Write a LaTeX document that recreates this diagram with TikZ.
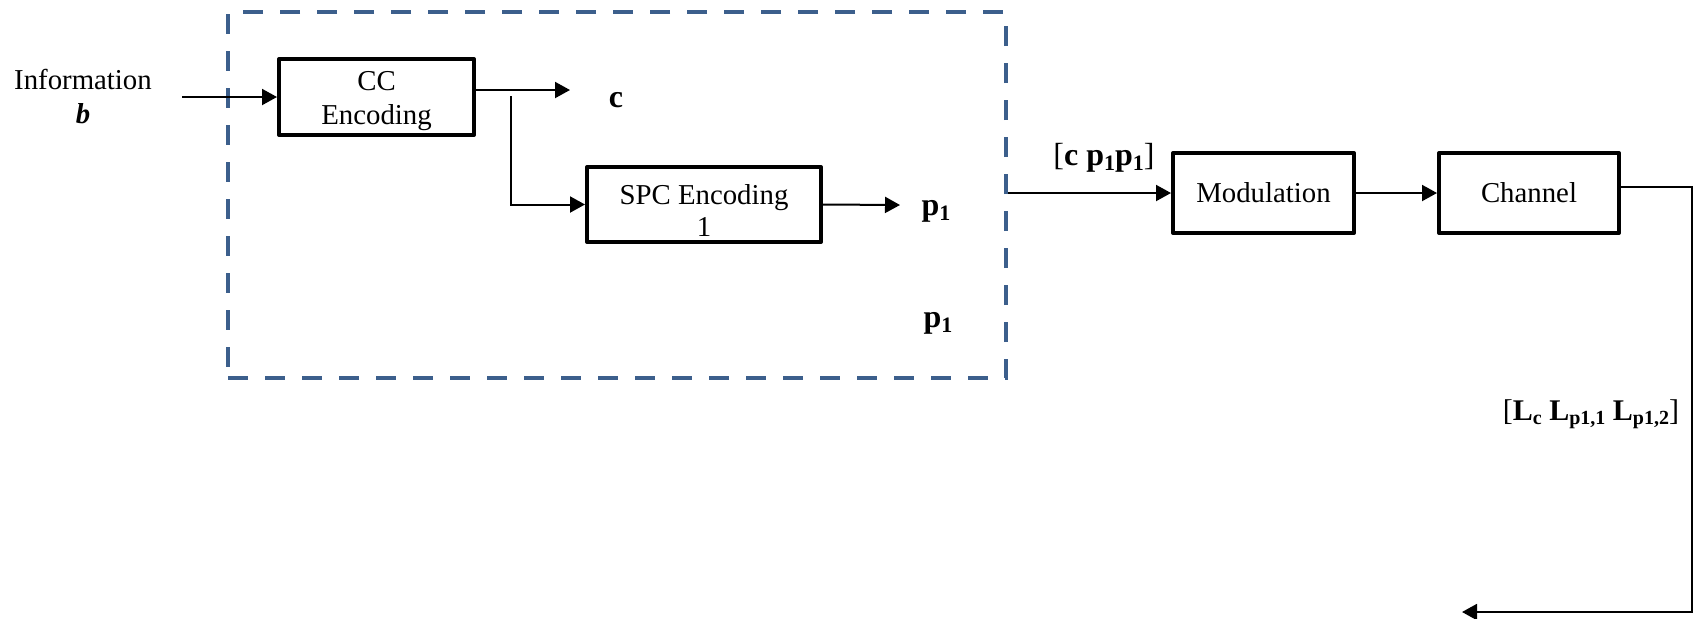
\documentclass[tikz,border=0pt]{standalone}
\usepackage{fontspec}
\setmainfont{Liberation Serif}
\usetikzlibrary{arrows.meta}
\definecolor{encblue}{HTML}{3C5F8C}
% small lowered subscript for the bold vector labels
\newcommand{\sbs}[1]{\raisebox{-0.35ex}{\fontsize{10}{10}\selectfont #1}}
\newcommand{\sbl}[1]{\raisebox{-0.35ex}{\fontsize{11}{11}\selectfont #1}}
\begin{document}
\begin{tikzpicture}[x=0.5pt,y=-0.5pt,
  every node/.style={font=\fontsize{14.4}{17}\selectfont},
  blk/.style={draw, line width=2pt, line join=round, inner sep=0pt},
  txt/.style={align=center, inner sep=0pt},
  vec/.style={inner sep=0pt, anchor=base, font=\fontsize{16}{17}\selectfont\bfseries},
  arr/.style={draw, line width=1pt, -{Triangle[length=7.5pt,width=8pt]}},
  grp/.style={draw=encblue, line width=2pt, dash pattern=on 10pt off 8.5pt, inner sep=0pt}
]
\useasboundingbox (0,0) rectangle (1696,618);

% encoder group
\node[grp, minimum width=389pt, minimum height=183pt] (enc) at (617,195) {};

% blocks
\node[blk, minimum width=97.5pt, minimum height=38pt] (cc) at (376.5,97) {};
\node[txt] (cc-t) at ([yshift=-2pt]cc.center) {CC\\Encoding};
\node[blk, minimum width=117pt, minimum height=37.5pt] (spc) at (704,204.5) {};
\node[txt] (spc-t) at ([yshift=-3pt]spc.center) {SPC Encoding\\[-1pt]1};
\node[blk, minimum width=90.5pt, minimum height=40pt] (mod) at (1263.5,193) {Modulation};
\node[blk, minimum width=90pt, minimum height=40pt] (ch) at (1529,193) {Channel};

% text labels
\node[inner sep=0pt, anchor=base] (info) at (83,89) {Information};
\node[inner sep=0pt, anchor=base] (infob) at (83,123) {\textbf{\textit{b}}};
\node[vec] (lc) at (616,107) {c};
\node[vec] (lp1) at (936,215) {p\sbl{1}};
\node[vec] (lp2) at (938,327) {p\sbl{1}};
\node[vec] (lcw) at (1104,165) {\mdseries[\bfseries c p\sbl{1}p\sbl{1}\mdseries]};
\node[vec, font=\fontsize{15}{17}\selectfont\bfseries] (llr) at (1591,420)
  {\mdseries[\bfseries L\sbs{c} L\sbs{p1,1} L\sbs{p1,2}\mdseries]};

% connector end points
\coordinate (inp) at (182,97);
\coordinate (cend) at (570,90);
\coordinate (br) at (511,96);
\coordinate (pend) at (900,205);
\coordinate (rt) at (1692,187);
\coordinate (fb) at (1462,612);

% connectors
\draw[arr] (inp) -- (inp -| cc.west);
\draw[arr] (cend -| cc.east) -- (cend);
\draw[arr] (br) |- (spc.west);
\draw[arr] (spc.east) -- (pend);
\draw[arr] (enc.east |- mod.west) -- (mod.west);
\draw[arr] (mod.east) -- (ch.west);
\draw[arr] (rt -| ch.east) -- (rt) |- (fb);
\end{tikzpicture}
\end{document}
